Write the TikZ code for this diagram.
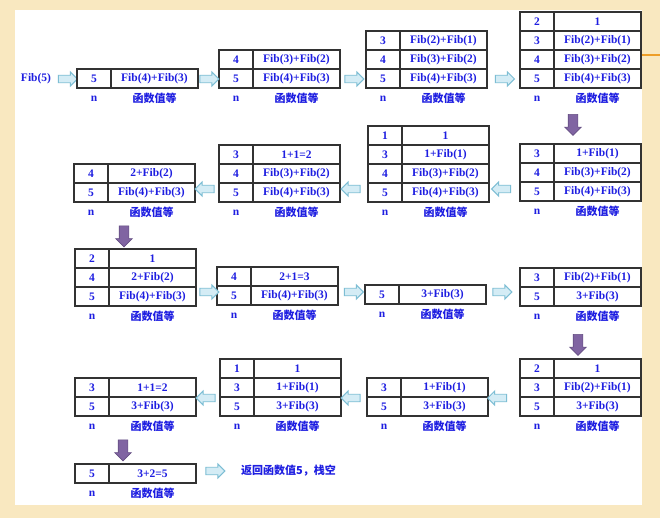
\documentclass[tikz,border=0pt]{standalone}
\usepackage{fontspec}
\setmainfont{Liberation Serif}
\newfontfamily\cjk{Noto Sans CJK SC}
\usetikzlibrary{shapes.arrows}
\definecolor{bgpaper}{RGB}{249,232,192}
\definecolor{fibblue}{RGB}{30,30,225}
\definecolor{tabline}{RGB}{50,50,50}
\definecolor{arrline}{RGB}{125,190,212}
\definecolor{arrfill}{RGB}{212,236,245}
\definecolor{purp}{RGB}{128,100,162}
\definecolor{purpd}{RGB}{100,78,130}
\definecolor{orangeln}{RGB}{238,158,40}
\newcommand\fibfont{\fontsize{11.5}{13}\selectfont\bfseries}
\newcommand\cjkfont{\cjk\fontsize{11}{12}\selectfont\bfseries}
\newcommand\fibtable[5]{% name, left x, bottom y, rows, list n/v (top to bottom)
  \foreach \nn/\vv [count=\i] in {#5} {
    \node[ncell] (#1r\i n) at ({#2},{#3-(#4-\i+1)*19}) {\nn};
    \node[vcell] (#1r\i v) at ({#2+34},{#3-(#4-\i+1)*19}) {\vv};
  }
  \node[lab] (#1ln) at ({#2+17},{#3+10.5}) {n};
  \node[lab, font=\cjkfont] (#1lv) at ({#2+77.5},{#3+10.5}) {函数值等};
}
\tikzset{
  cell/.style={draw=tabline, line width=1.2pt, outer sep=0pt, inner sep=0pt,
    minimum height=19pt, text=fibblue, font=\fibfont, anchor=north west},
  ncell/.style={cell, minimum width=34pt},
  vcell/.style={cell, minimum width=87pt},
  lab/.style={text=fibblue, font=\fibfont, inner sep=0pt},
  harrow/.style={single arrow, draw=arrline, fill=arrfill, line width=0.9pt,
    minimum height=19pt, inner sep=3.3pt, single arrow head extend=3.3pt, outer sep=0pt},
  leftarr/.style={harrow, shape border rotate=180},
  downarr/.style={single arrow, draw=purpd, fill=purp, line width=0.6pt,
    minimum height=21pt, inner sep=4.5pt, single arrow head extend=3.5pt,
    shape border rotate=270},
}
\begin{document}
\begin{tikzpicture}[x=1pt,y=-1pt]
\useasboundingbox (0,0) rectangle (660,518);
\fill[bgpaper] (0,0) rectangle (660,518);
\fill[white] (15,10) rectangle (642,505);
\draw[orangeln, line width=2pt] (642,55) coordinate (o1) -- (660,55) coordinate (o2);

% row 1
\node[lab] (start) at (36,79) {Fib(5)};
\node[harrow] (a0) at (66,79) {};
\fibtable{t1}{77}{88}{1}{5/Fib(4)+Fib(3)}
\fibtable{t2}{219}{88}{2}{4/Fib(3)+Fib(2), 5/Fib(4)+Fib(3)}
\fibtable{t3}{366}{88}{3}{3/Fib(2)+Fib(1), 4/Fib(3)+Fib(2), 5/Fib(4)+Fib(3)}
\fibtable{t4}{520}{88}{4}{2/1, 3/Fib(2)+Fib(1), 4/Fib(3)+Fib(2), 5/Fib(4)+Fib(3)}
\node[harrow] (a1) at (207.5,79) {};
\node[harrow] (a2) at (352.5,79) {};
\node[harrow] (a3) at (503,79) {};
\node[downarr] (d1) at (573,122.5) {};

% row 2
\fibtable{t5}{520}{201}{3}{3/1+Fib(1), 4/Fib(3)+Fib(2), 5/Fib(4)+Fib(3)}
\fibtable{t6}{368}{202}{4}{1/1, 3/1+Fib(1), 4/Fib(3)+Fib(2), 5/Fib(4)+Fib(3)}
\fibtable{t7}{219}{202}{3}{3/1+1=2, 4/Fib(3)+Fib(2), 5/Fib(4)+Fib(3)}
\fibtable{t8}{74}{202}{2}{4/2+Fib(2), 5/Fib(4)+Fib(3)}
\node[leftarr] (a4) at (503,189) {};
\node[leftarr] (a5) at (352.5,189) {};
\node[leftarr] (a6) at (206.5,189) {};
\node[downarr] (d2) at (124,234) {};

% row 3
\fibtable{t9}{75}{306}{3}{2/1, 4/2+Fib(2), 5/Fib(4)+Fib(3)}
\fibtable{t10}{217}{305}{2}{4/2+1=3, 5/Fib(4)+Fib(3)}
\fibtable{t11}{365}{304}{1}{5/3+Fib(3)}
\fibtable{t12}{520}{306}{2}{3/Fib(2)+Fib(1), 5/3+Fib(3)}
\node[harrow] (a7) at (207.5,292) {};
\node[harrow] (a8) at (352,292) {};
\node[harrow] (a9) at (500.5,292) {};
\node[downarr] (d3) at (578,342.5) {};

% row 4
\fibtable{t13}{520}{416}{3}{2/1, 3/Fib(2)+Fib(1), 5/3+Fib(3)}
\fibtable{t14}{367}{416}{2}{3/1+Fib(1), 5/3+Fib(3)}
\fibtable{t15}{220}{416}{3}{1/1, 3/1+Fib(1), 5/3+Fib(3)}
\fibtable{t16}{75}{416}{2}{3/1+1=2, 5/3+Fib(3)}
\node[leftarr] (a10) at (499,398) {};
\node[leftarr] (a11) at (352.5,398) {};
\node[leftarr] (a12) at (207.5,398) {};
\node[downarr] (d4) at (123,448) {};

% row 5
\fibtable{t17}{75}{483}{1}{5/3+2=5}
\node[harrow] (a13) at (213.5,471) {};
\node[lab, font=\cjkfont, anchor=west] (ret) at (241,471) {返回函数值5，栈空};
\end{tikzpicture}
\end{document}
